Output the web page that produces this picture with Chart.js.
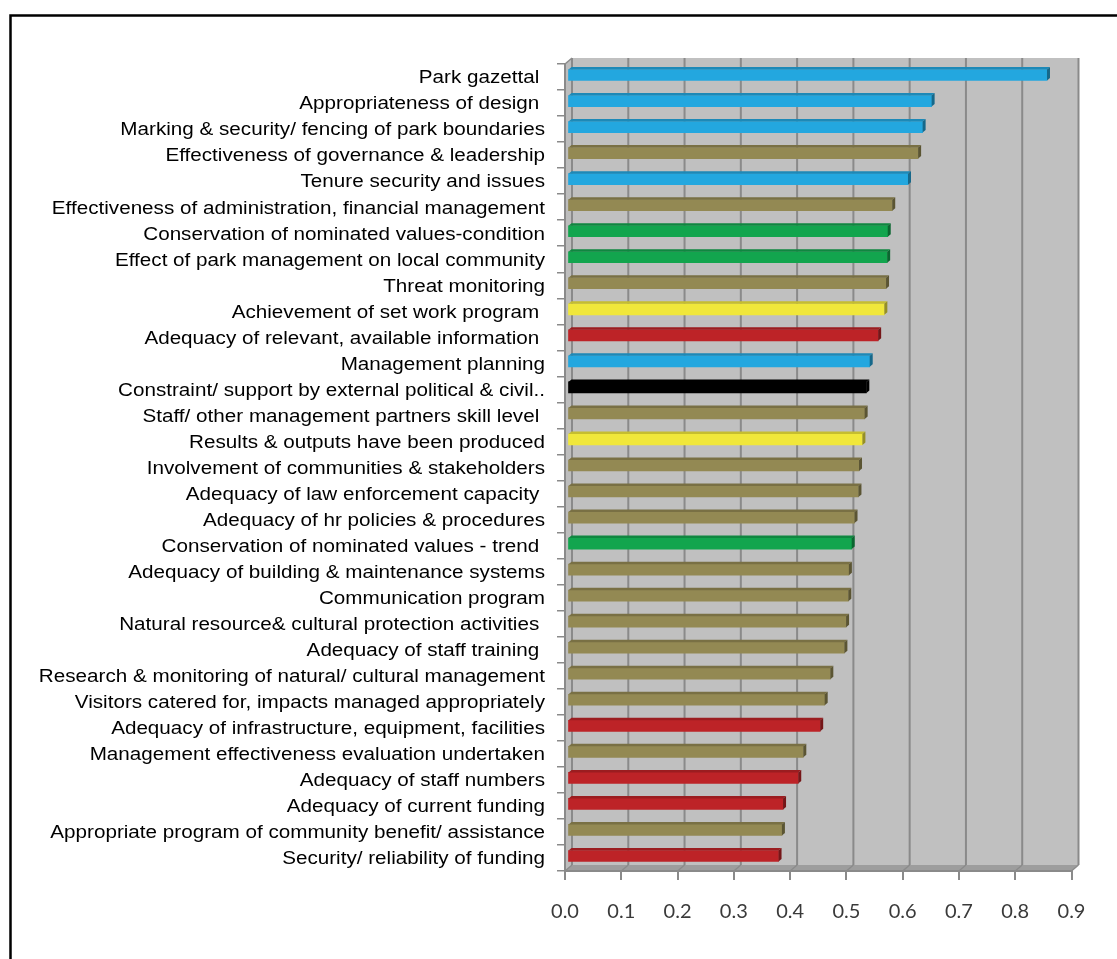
<!DOCTYPE html>
<html>
<head>
<meta charset="utf-8">
<script src="https://cdn.jsdelivr.net/npm/chart.js@4.4.1/dist/chart.umd.min.js"></script>
<style>
	html, body { margin: 0; padding: 0; background: #fff; }
	canvas { display: block; }
</style>
</head>
<body>
<canvas id="chart" width="1117" height="959"></canvas>
<script>
/*--------------------------------------------------------------------------------------------------------------------*/
/* Data                                                                                                               */
/*--------------------------------------------------------------------------------------------------------------------*/

const categories = [
	'Park gazettal ',
	'Appropriateness of design ',
	'Marking & security/ fencing of park boundaries',
	'Effectiveness of governance & leadership',
	'Tenure security and issues',
	'Effectiveness of administration, financial management',
	'Conservation of nominated values-condition',
	'Effect of park management on local community',
	'Threat monitoring',
	'Achievement of set work program ',
	'Adequacy of relevant, available information ',
	'Management planning',
	'Constraint/ support by external political & civil..',
	'Staff/ other management partners skill level ',
	'Results & outputs have been produced',
	'Involvement of communities & stakeholders',
	'Adequacy of law enforcement capacity ',
	'Adequacy of hr policies & procedures',
	'Conservation of nominated values - trend ',
	'Adequacy of building & maintenance systems',
	'Communication program',
	'Natural resource& cultural protection activities ',
	'Adequacy of staff training ',
	'Research & monitoring of natural/ cultural management',
	'Visitors catered for, impacts managed appropriately',
	'Adequacy of infrastructure, equipment, facilities',
	'Management effectiveness evaluation undertaken',
	'Adequacy of staff numbers',
	'Adequacy of current funding',
	'Appropriate program of community benefit/ assistance',
	'Security/ reliability of funding',
];

const scores = [
	0.852, 0.647, 0.631, 0.623, 0.605, 0.577, 0.569, 0.568, 0.566, 0.563, 0.552,
	0.537, 0.531, 0.528, 0.524, 0.518, 0.517, 0.510, 0.505, 0.500, 0.499, 0.495,
	0.492, 0.467, 0.457, 0.449, 0.419, 0.410, 0.383, 0.381, 0.375,
];

/* management effectiveness framework element of each row */
const elements = [
	'Planning', 'Planning', 'Planning', 'Process', 'Planning', 'Process', 'Outcomes', 'Outcomes', 'Process', 'Outputs', 'Inputs',
	'Planning', 'Context', 'Process', 'Outputs', 'Process', 'Process', 'Process', 'Outcomes', 'Process', 'Process', 'Process',
	'Process', 'Process', 'Process', 'Inputs', 'Process', 'Inputs', 'Inputs', 'Process', 'Inputs',
];

const xMin = 0.0;
const xMax = 0.9;
const xStep = 0.1;

/*--------------------------------------------------------------------------------------------------------------------*/
/* Styles                                                                                                             */
/*--------------------------------------------------------------------------------------------------------------------*/

const palette = {
	Planning: '#23a7df',
	Process: '#938953',
	Outcomes: '#12a54e',
	Outputs: '#f0e73b',
	Inputs: '#bd2327',
	Context: '#000000',
};

const WALL_DX = 7, WALL_DY = 6;           /* depth of the 3-D walls */
const BAR_SHIFT_X = 2.5, BAR_SHIFT_Y = 2; /* bars sit a little inside the depth */
const BAR_DX = 3, BAR_DY = 2.5;           /* depth of each bar */
const LABEL_STRETCH = 1.18;

function shade(hex, k)
{
	const n = parseInt(hex.slice(1), 16);
	const r = Math.round(((n >> 16) & 255) * k);
	const g = Math.round(((n >> 8) & 255) * k);
	const b = Math.round((n & 255) * k);
	return `rgb(${r},${g},${b})`;
}

function poly(ctx, pts, fill)
{
	ctx.beginPath();
	ctx.moveTo(pts[0][0], pts[0][1]);
	pts.slice(1).forEach((p) => ctx.lineTo(p[0], p[1]));
	ctx.closePath();
	ctx.fillStyle = fill;
	ctx.fill();
}

/*--------------------------------------------------------------------------------------------------------------------*/
/* 3-D look                                                                                                           */
/*--------------------------------------------------------------------------------------------------------------------*/

const walls3d = {
	id: 'walls3d',

	beforeDraw: function(chart)
	{
		const ctx = chart.ctx;
		const a = chart.chartArea;
		const xs = chart.scales.x;

		ctx.save();

		ctx.fillStyle = '#fff';
		ctx.fillRect(0, 0, chart.width, chart.height);

		ctx.strokeStyle = '#000';
		ctx.lineWidth = 2.5;
		ctx.strokeRect(10.5, 15.5, chart.width + 40, chart.height + 40);

		/* back wall, side wall, floor */
		poly(ctx, [[a.left + WALL_DX, a.top - WALL_DY], [a.right + WALL_DX, a.top - WALL_DY], [a.right + WALL_DX, a.bottom - WALL_DY], [a.left + WALL_DX, a.bottom - WALL_DY]], '#c0c0c0');
		poly(ctx, [[a.left, a.top], [a.left + WALL_DX, a.top - WALL_DY], [a.left + WALL_DX, a.bottom - WALL_DY], [a.left, a.bottom]], '#bdbdbd');
		poly(ctx, [[a.left, a.bottom], [a.right, a.bottom], [a.right + WALL_DX, a.bottom - WALL_DY], [a.left + WALL_DX, a.bottom - WALL_DY]], '#9d9d9d');

		ctx.strokeStyle = '#8a8a8a';

		for(let v = xMin; v <= xMax + 1e-9; v += xStep)
		{
			const px = xs.getPixelForValue(v);

			ctx.lineWidth = 2;
			ctx.beginPath();
			ctx.moveTo(px + WALL_DX, a.top - WALL_DY);
			ctx.lineTo(px + WALL_DX, a.bottom - WALL_DY);
			ctx.stroke();

			ctx.lineWidth = 1.2;
			ctx.beginPath();
			ctx.moveTo(px, a.bottom);
			ctx.lineTo(px + WALL_DX, a.bottom - WALL_DY);
			ctx.stroke();
		}

		ctx.lineWidth = 1.5;
		ctx.beginPath();
		ctx.moveTo(a.left, a.top);
		ctx.lineTo(a.left + WALL_DX, a.top - WALL_DY);
		ctx.stroke();

		ctx.restore();
	},

	beforeDatasetsDraw: function(chart)
	{
		chart.ctx.save();
		chart.ctx.translate(BAR_SHIFT_X, -BAR_SHIFT_Y);
	},

	afterDatasetsDraw: function(chart)
	{
		const ctx = chart.ctx;

		chart.getDatasetMeta(0).data.forEach((bar, i) => {

			const p = bar.getProps(['x', 'y', 'base', 'height'], true);
			const top = p.y - p.height / 2;
			const bottom = p.y + p.height / 2;
			const color = palette[elements[i]];

			poly(ctx, [[p.base, top], [p.x, top], [p.x + BAR_DX, top - BAR_DY], [p.base + BAR_DX, top - BAR_DY]], shade(color, 0.82));
			poly(ctx, [[p.x, top], [p.x + BAR_DX, top - BAR_DY], [p.x + BAR_DX, bottom - BAR_DY], [p.x, bottom]], shade(color, 0.62));
		});

		ctx.restore();
	},

	afterDraw: function(chart)
	{
		const ctx = chart.ctx;
		const ys = chart.scales.y;
		const right = chart.chartArea.left - 20;

		ctx.save();
		ctx.font = '17.5px "Liberation Sans", Arial, sans-serif';
		ctx.fillStyle = '#000';
		ctx.textAlign = 'right';
		ctx.textBaseline = 'middle';
		ctx.scale(LABEL_STRETCH, 1);

		categories.forEach((label, i) => {
			ctx.fillText(label, right / LABEL_STRETCH, ys.getPixelForValue(i) + 1.5);
		});

		ctx.restore();
	},
};

/*--------------------------------------------------------------------------------------------------------------------*/
/* Chart                                                                                                              */
/*--------------------------------------------------------------------------------------------------------------------*/

new Chart(document.getElementById('chart').getContext('2d'), {
	type: 'bar',
	data: {
		labels: categories,
		datasets: [{
			data: scores,
			backgroundColor: elements.map((e) => palette[e]),
			borderWidth: 0,
			barThickness: 11,
		}],
	},
	options: {
		responsive: false,
		animation: false,
		indexAxis: 'y',
		layout: {
			padding: { top: 64, right: 45.5, bottom: 0, left: 0 },
		},
		plugins: {
			legend: { display: false },
			tooltip: { enabled: false },
		},
		scales: {
			x: {
				min: xMin,
				max: xMax,
				afterFit: (scale) => { scale.height = 88; },
				grid: { drawOnChartArea: false, tickLength: 9, color: '#8a8a8a', lineWidth: 2 },
				border: { color: '#8a8a8a', width: 2 },
				ticks: {
					stepSize: xStep,
					padding: 20,
					color: '#3a3a3a',
					font: { family: 'Lato, "Open Sans", sans-serif', size: 20 },
					callback: (v) => Number(v).toFixed(1),
				},
			},
			y: {
				afterFit: (scale) => { scale.width = 565; },
				grid: { drawOnChartArea: false, tickLength: 8, color: '#8a8a8a', lineWidth: 1.5 },
				border: { color: '#8a8a8a', width: 2 },
				ticks: { display: false, autoSkip: false },
			},
		},
	},
	plugins: [walls3d],
});

/*--------------------------------------------------------------------------------------------------------------------*/
</script>
</body>
</html>
